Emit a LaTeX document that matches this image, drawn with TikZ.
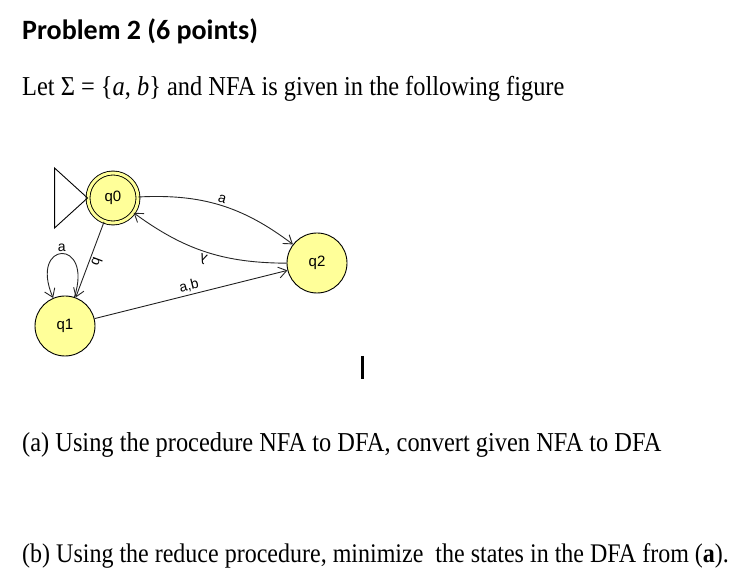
\documentclass[tikz,border=0pt]{standalone}
\usepackage{fontspec}
\setmainfont{Liberation Serif}
\newfontfamily\titlefont{Carlito}
\newfontfamily\statefont{Liberation Sans}
\usetikzlibrary{arrows.meta, positioning}
\definecolor{stateyellow}{RGB}{255,255,153}
\newcommand{\tallline}[1]{\scalebox{1}[1.12]{#1}}

\begin{document}
\begin{tikzpicture}[
  x=1pt, y=1pt,
  state/.style={circle, draw, line width=0.9pt, fill=stateyellow, minimum size=60pt, inner sep=0pt, font=\fontsize{15}{15}\selectfont\statefont},
  final/.style={state, minimum size=50pt, double=stateyellow, double distance=3pt},
  lbl/.style={font=\fontsize{14}{14}\selectfont\statefont, inner sep=2pt},
  txt/.style={anchor=base west, inner sep=0pt},
  edgeline/.style={->, line width=0.9pt, draw=black!85},
  >={Straight Barb[length=8pt, width=11pt]},
]
  \useasboundingbox (0,0) rectangle (740,-585);

  % question text
  \node[txt, font=\fontsize{28}{28}\selectfont\titlefont\bfseries] (title) at (22,-40) {Problem 2 (6 points)};
  \node[txt, font=\fontsize{24.4}{24}\selectfont] (given) at (22,-96) {\tallline{Let Σ = \{\textit{a}, \textit{b}\} and NFA is given in the following figure}};
  \node[txt, font=\fontsize{24.4}{24}\selectfont] (parta) at (22,-452) {\tallline{(a) Using the procedure NFA to DFA, convert given NFA to DFA}};
  \node[txt, font=\fontsize{24}{24}\selectfont] (partb) at (22,-562) {\tallline{(b) Using the reduce procedure, minimize\ \ the states in the DFA from (\textbf{a}).}};

  % automaton
  \node[final] (q0) at (113,-198) {q0};
  \node[state] (q1) at (65,-326) {q1};
  \node[state] (q2) at (317,-263) {q2};

  \draw[line width=0.9pt] (q0.west) -- ++(-33,30) -- ++(0,-60) -- cycle;

  \draw[edgeline] (q0) to[bend left=20] node[lbl, sloped, above] {a} (q2);
  \draw[edgeline] (q2) to[bend left=18] node[lbl, sloped, allow upside down, above] {λ} (q0);
  \draw[edgeline] (q0) -- node[lbl, sloped, allow upside down, above] {b} (q1);
  \draw[edgeline] (q1) to[out=72, in=113, looseness=7.5] node[lbl, above] {a} (q1);
  \draw[edgeline] (q1) -- node[lbl, sloped, above] {a,b} (q2);

  % text cursor
  \draw[line width=3pt] (362.5,-356) -- (362.5,-379);
\end{tikzpicture}
\end{document}
